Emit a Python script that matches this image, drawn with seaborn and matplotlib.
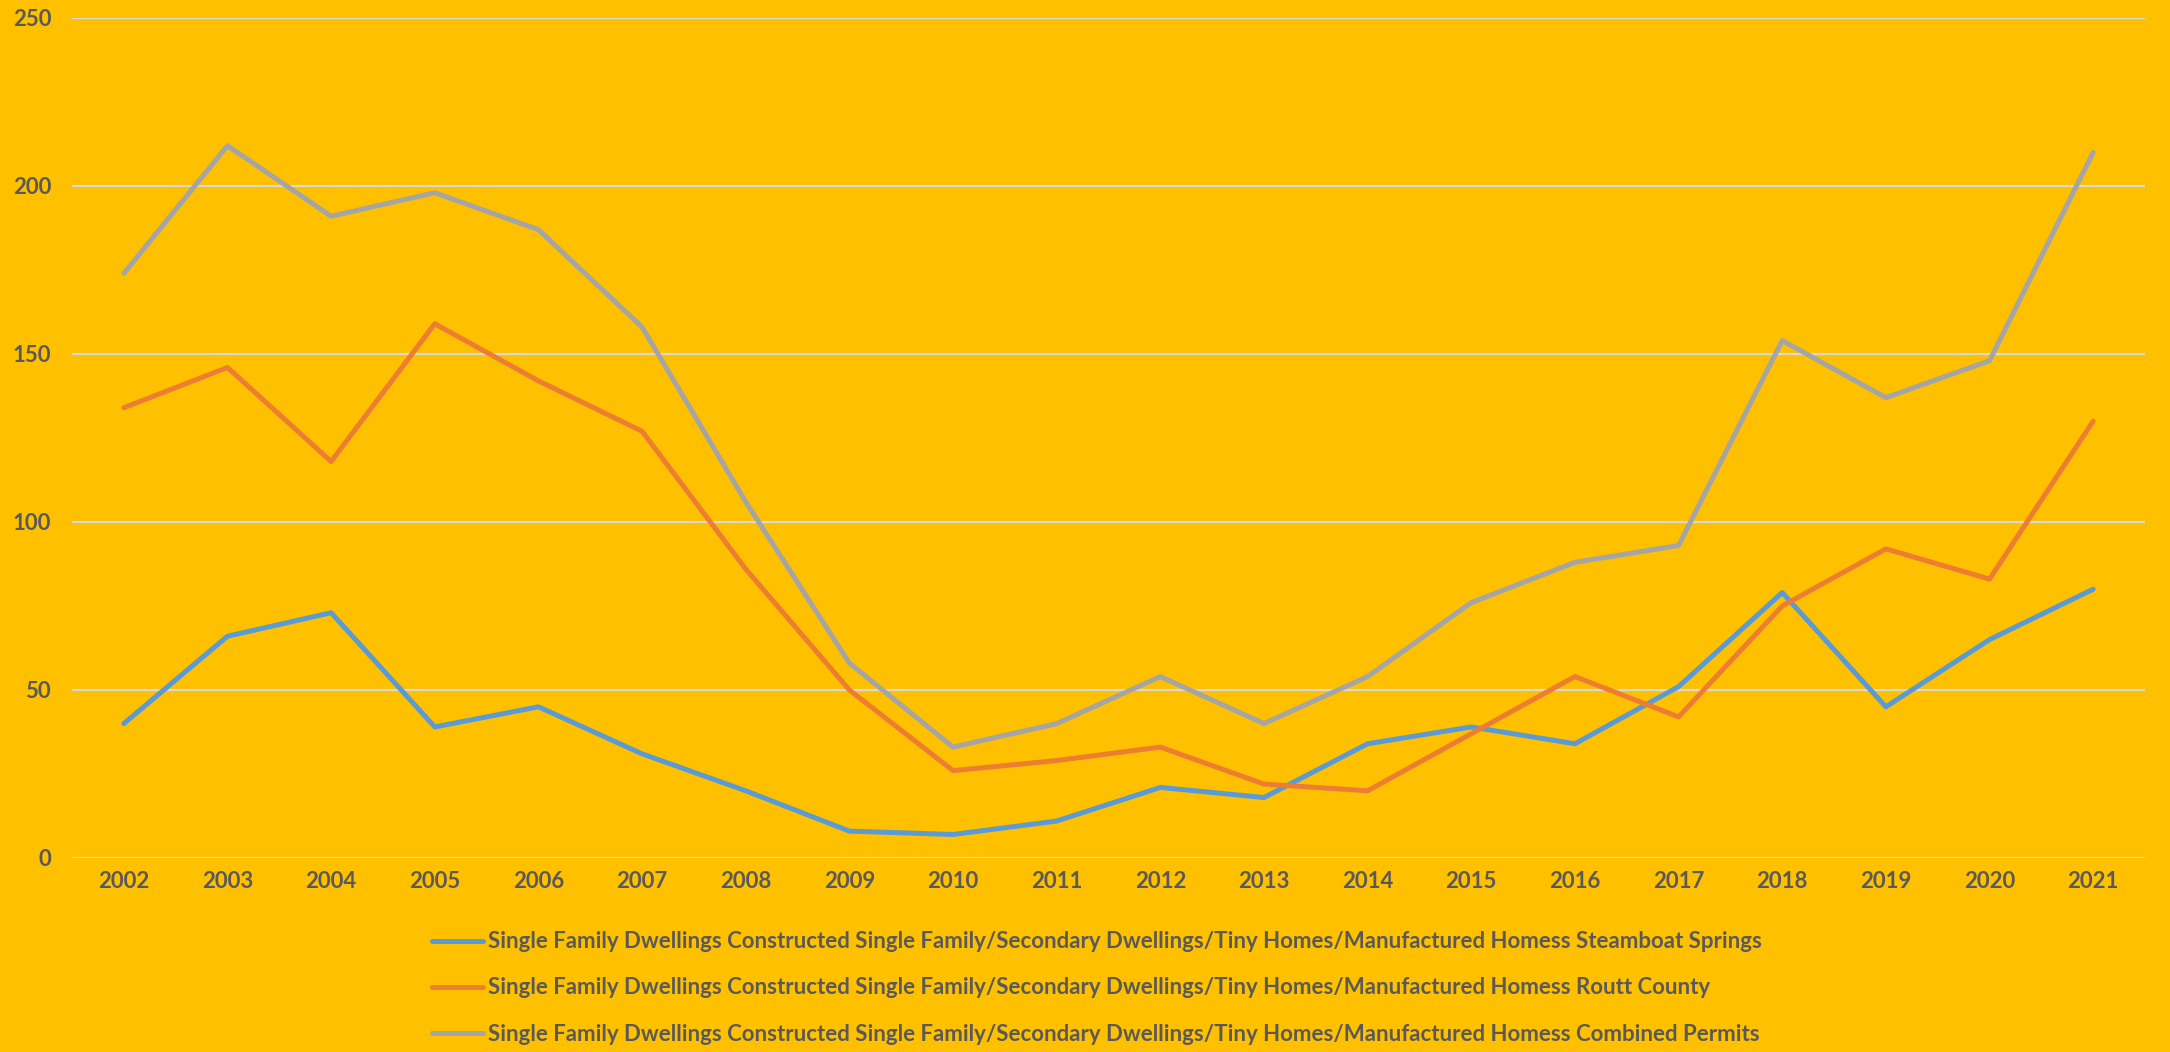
import matplotlib
matplotlib.use("Agg")
import matplotlib.pyplot as plt
import seaborn as sns
import pandas as pd

years = [str(y) for y in range(2002, 2022)]
steamboat = [40, 66, 73, 39, 45, 31, 20, 8, 7, 11, 21, 18, 34, 39, 34, 51, 79, 45, 65, 80]
routt = [134, 146, 118, 159, 142, 127, 86, 50, 26, 29, 33, 22, 20, 37, 54, 42, 75, 92, 83, 130]
combined = [174, 212, 191, 198, 187, 158, 106, 58, 33, 40, 54, 40, 54, 76, 88, 93, 154, 137, 148, 210]

prefix = "Single Family Dwellings Constructed Single Family/Secondary Dwellings/Tiny Homes/Manufactured Homess "
series_names = [prefix + "Steamboat Springs", prefix + "Routt County", prefix + "Combined Permits"]
colors = ["#5B9BD5", "#ED7D31", "#A5A5A5"]
yticks = [0, 50, 100, 150, 200, 250]

frames = []
for name, vals in zip(series_names, [steamboat, routt, combined]):
    frames.append(pd.DataFrame({"Year": years, "Value": vals, "Series": name}))
df = pd.concat(frames, ignore_index=True)

sns.set_style("white")
plt.rcParams['font.family'] = ['Lato', 'DejaVu Sans']
plt.rcParams['font.weight'] = 'bold'

bg = "#FFC000"
txt = "#595959"

fig = plt.figure(figsize=(21.7, 10.52), dpi=100, facecolor=bg)
ax = fig.add_axes([72/2170, 1 - 858/1052, (2145-72)/2170, (858-18)/1052])
ax.set_facecolor(bg)

sns.lineplot(data=df, x="Year", y="Value", hue="Series", hue_order=series_names,
             palette=colors, linewidth=3.6, ax=ax, legend=False, sort=False,
             solid_capstyle="round")

ax.set_xlim(-0.5, len(years) - 0.5)
ax.set_ylim(0, 250)
ax.set_yticks(yticks)
ax.set_yticklabels([str(t) for t in yticks])
ax.yaxis.grid(True, color="#D9D9D9", linewidth=1.6)
ax.set_axisbelow(True)
for s in ax.spines.values():
    s.set_visible(False)
ax.set_xlabel("")
ax.set_ylabel("")
ax.tick_params(axis="y", length=0, pad=15, labelsize=16, labelcolor=txt)
ax.tick_params(axis="x", length=0, pad=9, labelsize=16, labelcolor=txt)
for lbl in ax.get_xticklabels() + ax.get_yticklabels():
    lbl.set_fontweight("bold")

handles = [plt.Line2D([0], [0], color=c, linewidth=3.6, solid_capstyle="round") for c in colors]
leg = fig.legend(handles, series_names, loc="center", bbox_to_anchor=(1097/2170, 1 - 988/1052),
                 frameon=False, ncol=1, fontsize=16, handlelength=2.3, handletextpad=0.2,
                 labelspacing=1.13)
for t in leg.get_texts():
    t.set_color(txt)
    t.set_fontweight("bold")

fig.savefig("out.png", dpi=100, facecolor=bg)
